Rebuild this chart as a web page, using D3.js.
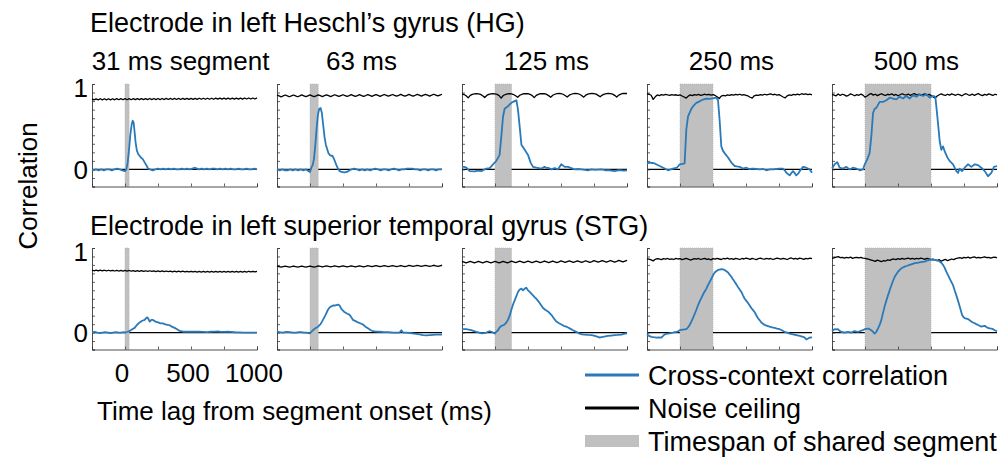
<!DOCTYPE html>
<html>
<head>
<meta charset="utf-8">
<script src="https://cdn.jsdelivr.net/npm/d3@7"></script>
<style>
  html, body { margin: 0; padding: 0; background: #fff; }
  svg { display: block; }
  text { font-family: "Liberation Sans", Arial, Helvetica, sans-serif; fill: #000; }
</style>
</head>
<body>
<svg id="chart" width="1000" height="457"></svg>
<script>
// ---- Data -------------------------------------------------------------
const segmentLabels = ["31 ms segment", "63 ms", "125 ms", "250 ms", "500 ms"];
const segmentDurations = [31.25, 62.5, 125, 250, 500];   // ms
const timeDomain = [-250, 1000];                          // ms, lag from segment onset
const xTicks = [-250, 0, 250, 500, 750, 1000];
const xTickLabels = ["", "0", "", "500", "", "1000"];
const yTicks = [-0.2, -0.1, 0, 0.1, 0.2, 0.3, 0.4, 0.5, 0.6, 0.7, 0.8, 0.9, 1.0];
const yLabelValues = [0, 1];
const rowTitles = [
  "Electrode in left Heschl\u2019s gyrus (HG)",
  "Electrode in left superior temporal gyrus (STG)"
];
const legendLabels = ["Cross-context correlation", "Noise ceiling", "Timespan of shared segment"];

// Cross-context correlation, [lag ms, r] — Heschl's gyrus
const corrHG31 = [[-250,0.00],[-235,-0.01],[-220,0.00],[-200,-0.01],[-180,0.00],[-160,-0.01],[-140,0.00],[-120,0.00],[-100,-0.01],[-80,0.00],[-60,0.01],[-40,0.00],[-20,-0.01],[0,-0.02],[10,0.00],[20,0.08],[30,0.22],[40,0.40],[50,0.52],[58,0.57],[65,0.55],[72,0.45],[80,0.32],[90,0.22],[100,0.18],[110,0.16],[120,0.14],[135,0.12],[150,0.08],[165,0.04],[175,0.01],[190,0.00],[210,-0.01],[230,0.00],[250,0.01],[270,0.00],[290,0.01],[310,0.00],[330,0.01],[350,0.00],[370,0.01],[390,0.00],[410,0.00],[430,0.01],[450,0.00],[470,0.01],[490,0.00],[510,0.01],[530,0.02],[545,0.01],[560,0.00],[580,0.01],[600,0.00],[620,0.01],[640,0.00],[660,0.01],[680,0.01],[700,0.00],[720,0.01],[740,0.00],[760,0.01],[780,0.00],[800,0.01],[820,0.00],[840,0.00],[860,0.01],[880,0.00],[900,0.00],[920,0.01],[940,0.00],[960,0.00],[980,0.01],[1000,0.00]];
const corrHG63 = [[-250,0.00],[-230,-0.01],[-210,0.00],[-190,-0.01],[-170,-0.01],[-150,0.00],[-130,-0.01],[-110,0.00],[-90,-0.01],[-70,0.00],[-50,-0.01],[-30,0.00],[-10,-0.02],[0,-0.03],[10,0.02],[20,0.05],[30,0.12],[40,0.28],[50,0.48],[60,0.64],[70,0.71],[80,0.72],[90,0.66],[100,0.52],[110,0.38],[120,0.29],[130,0.24],[140,0.19],[150,0.17],[160,0.16],[170,0.16],[180,0.13],[190,0.09],[200,0.05],[212,0.01],[225,-0.02],[240,-0.03],[260,-0.035],[280,-0.03],[300,-0.01],[315,0.00],[335,0.01],[355,0.00],[375,-0.01],[395,0.00],[415,-0.01],[435,0.00],[455,-0.01],[475,0.00],[495,0.01],[515,0.00],[535,-0.01],[555,0.00],[575,0.00],[595,-0.01],[615,0.00],[635,0.01],[655,0.00],[675,-0.01],[695,0.00],[715,0.00],[735,0.01],[755,0.01],[775,0.01],[795,0.00],[815,0.00],[835,-0.01],[855,0.00],[875,0.00],[895,-0.01],[915,0.00],[935,0.00],[955,-0.01],[975,0.00],[1000,0.00]];
const corrHG125 = [[-250,0.03],[-235,0.03],[-217,0.02],[-192,-0.02],[-154,-0.023],[-130,-0.015],[-104,-0.02],[-66,0.01],[-40,0.016],[-15,0.06],[10,0.10],[35,0.17],[48,0.39],[61,0.62],[73,0.71],[98,0.74],[124,0.78],[149,0.80],[162,0.81],[174,0.70],[187,0.50],[200,0.29],[225,0.23],[250,0.17],[270,0.08],[288,0.03],[313,0.02],[351,0.01],[376,0.03],[390,0.015],[402,0.02],[427,0.00],[452,0.016],[477,0.00],[502,0.06],[528,0.03],[553,0.03],[578,0.016],[603,0.00],[630,0.005],[654,0.00],[680,-0.005],[705,-0.01],[730,0.00],[760,-0.005],[806,0.00],[840,-0.01],[870,-0.01],[907,-0.02],[930,-0.01],[957,-0.01],[975,-0.015],[1000,-0.01]];
const corrHG250 = [[-250,0.07],[-230,0.08],[-210,0.075],[-192,0.07],[-154,0.04],[-116,0.01],[-91,-0.01],[-70,0.00],[-53,0.01],[-23,0.02],[-2,0.06],[20,0.065],[35,0.07],[48,0.47],[61,0.62],[86,0.71],[105,0.75],[124,0.78],[140,0.79],[162,0.81],[180,0.82],[200,0.83],[218,0.825],[237,0.83],[255,0.835],[275,0.84],[288,0.81],[300,0.58],[313,0.27],[325,0.22],[338,0.19],[364,0.14],[389,0.08],[414,0.04],[430,0.035],[452,0.03],[477,0.01],[503,0.02],[525,0.005],[553,0.01],[580,0.005],[604,0.00],[630,0.005],[654,-0.01],[680,0.00],[705,0.00],[730,0.005],[755,0.01],[780,0.01],[793,-0.01],[806,-0.04],[831,-0.07],[845,-0.04],[856,-0.02],[868,-0.04],[881,-0.07],[895,-0.05],[907,-0.02],[932,0.03],[957,0.02],[982,0.00],[1000,-0.04]];
const corrHG500 = [[-250,0.01],[-230,0.06],[-210,0.085],[-192,0.02],[-167,0.01],[-141,0.03],[-116,0.00],[-91,0.02],[-66,0.01],[-40,-0.01],[-15,0.00],[-2,0.06],[18,0.12],[35,0.19],[48,0.39],[61,0.66],[73,0.71],[86,0.72],[111,0.79],[136,0.79],[162,0.81],[187,0.84],[212,0.83],[237,0.82],[263,0.85],[288,0.83],[313,0.86],[338,0.83],[364,0.87],[389,0.85],[414,0.88],[439,0.86],[465,0.88],[490,0.84],[515,0.86],[533,0.85],[548,0.62],[566,0.33],[578,0.23],[591,0.27],[604,0.21],[624,0.14],[641,0.10],[667,0.06],[692,-0.02],[705,-0.04],[717,0.01],[735,-0.02],[755,0.02],[780,0.06],[806,0.03],[831,0.06],[856,0.05],[881,0.02],[907,-0.02],[932,-0.08],[957,-0.04],[977,0.03],[1000,0.04]];

// Cross-context correlation, [lag ms, r] — superior temporal gyrus
const corrSTG31 = [[-250,0.00],[-230,0.01],[-210,0.00],[-190,-0.005],[-170,0.00],[-150,0.005],[-130,0.00],[-110,-0.005],[-90,0.00],[-70,0.005],[-50,0.00],[-30,0.00],[-10,0.005],[0,0.00],[20,0.01],[35,0.02],[55,0.04],[73,0.056],[90,0.09],[111,0.12],[130,0.14],[149,0.15],[160,0.17],[169,0.18],[178,0.16],[187,0.13],[200,0.15],[212,0.15],[230,0.13],[250,0.12],[270,0.11],[288,0.11],[300,0.10],[313,0.095],[325,0.09],[338,0.087],[355,0.07],[376,0.056],[395,0.04],[414,0.02],[439,0.01],[460,0.01],[480,0.012],[500,0.01],[530,0.012],[560,0.01],[590,0.008],[620,0.006],[650,0.01],[680,0.012],[700,0.015],[720,0.01],[750,0.008],[780,0.01],[800,0.008],[830,0.004],[860,0.002],[900,0.00],[940,0.00],[970,0.00],[1000,0.00]];
const corrSTG63 = [[-250,0.01],[-230,0.005],[-205,0.00],[-180,0.008],[-154,0.005],[-130,0.00],[-104,0.00],[-85,0.006],[-66,0.005],[-45,0.00],[-28,0.00],[-2,-0.01],[23,0.03],[40,0.05],[61,0.07],[80,0.10],[98,0.15],[118,0.21],[136,0.27],[150,0.30],[162,0.31],[175,0.32],[187,0.32],[200,0.325],[212,0.33],[225,0.32],[237,0.28],[250,0.26],[263,0.24],[280,0.225],[300,0.21],[313,0.18],[326,0.15],[345,0.135],[364,0.12],[380,0.11],[401,0.095],[420,0.07],[439,0.05],[458,0.03],[477,0.016],[500,0.012],[528,0.01],[560,0.005],[595,0.005],[629,0.00],[660,0.00],[679,0.00],[692,0.028],[705,0.00],[730,0.00],[760,-0.005],[790,-0.012],[806,-0.016],[830,-0.022],[856,-0.03],[880,-0.032],[907,-0.03],[930,-0.028],[957,-0.025],[980,-0.024],[1000,-0.025]];
const corrSTG125 = [[-250,0.04],[-235,0.042],[-217,0.04],[-200,0.035],[-179,0.028],[-160,0.018],[-141,0.008],[-120,0.00],[-104,-0.008],[-85,-0.005],[-66,0.00],[-52,0.01],[-40,0.016],[-20,0.005],[-2,-0.012],[10,0.01],[23,0.028],[35,0.06],[48,0.08],[60,0.085],[73,0.095],[86,0.12],[98,0.15],[111,0.20],[124,0.27],[136,0.33],[149,0.38],[162,0.43],[174,0.48],[187,0.51],[200,0.52],[212,0.50],[225,0.52],[237,0.53],[250,0.50],[263,0.48],[275,0.46],[288,0.44],[300,0.42],[313,0.40],[326,0.375],[338,0.35],[351,0.32],[364,0.29],[380,0.27],[401,0.25],[414,0.23],[427,0.21],[445,0.17],[465,0.13],[485,0.11],[503,0.095],[520,0.08],[540,0.07],[553,0.06],[566,0.05],[591,0.028],[616,0.008],[641,-0.012],[660,-0.02],[679,-0.024],[705,-0.028],[730,-0.03],[750,-0.036],[768,-0.044],[780,-0.05],[793,-0.06],[805,-0.055],[818,-0.05],[837,-0.045],[856,-0.04],[880,-0.035],[907,-0.03],[930,-0.028],[957,-0.024],[975,-0.015],[1000,-0.008]];
const corrSTG250 = [[-250,-0.02],[-235,-0.04],[-217,-0.05],[-200,-0.055],[-179,-0.06],[-160,-0.058],[-141,-0.06],[-128,-0.04],[-116,-0.02],[-104,-0.015],[-91,-0.012],[-70,-0.005],[-53,0.00],[-40,0.005],[-23,0.008],[-2,0.028],[10,0.032],[23,0.036],[35,0.038],[48,0.04],[60,0.06],[73,0.09],[86,0.13],[98,0.17],[111,0.22],[124,0.27],[136,0.32],[149,0.37],[162,0.41],[174,0.45],[187,0.485],[200,0.52],[212,0.56],[225,0.60],[235,0.63],[245,0.66],[253,0.685],[263,0.71],[275,0.725],[288,0.74],[300,0.745],[313,0.75],[326,0.748],[338,0.74],[351,0.725],[364,0.71],[376,0.685],[389,0.66],[401,0.63],[414,0.60],[427,0.57],[439,0.54],[452,0.51],[465,0.48],[477,0.44],[490,0.40],[503,0.375],[515,0.35],[528,0.32],[540,0.29],[553,0.265],[566,0.24],[578,0.205],[591,0.17],[604,0.145],[616,0.12],[629,0.105],[641,0.09],[660,0.08],[679,0.07],[698,0.062],[717,0.056],[735,0.048],[755,0.04],[775,0.025],[793,0.008],[812,0.00],[831,-0.012],[856,-0.02],[881,-0.03],[907,-0.04],[932,-0.05],[945,-0.06],[957,-0.08],[970,-0.07],[982,-0.06],[1000,-0.056]];
const corrSTG500 = [[-250,0.016],[-240,0.03],[-230,0.04],[-217,0.038],[-205,0.04],[-192,0.02],[-179,0.008],[-167,0.004],[-154,0.00],[-141,0.006],[-129,0.008],[-116,0.004],[-104,0.00],[-91,0.01],[-78,0.016],[-66,0.012],[-53,0.008],[-40,0.016],[-28,0.024],[-15,0.03],[-2,0.04],[10,0.045],[23,0.048],[35,0.04],[48,0.028],[60,0.01],[73,-0.012],[86,0.01],[98,0.048],[111,0.09],[124,0.15],[136,0.23],[149,0.31],[162,0.38],[174,0.44],[187,0.50],[200,0.56],[212,0.61],[225,0.66],[237,0.69],[250,0.72],[263,0.74],[275,0.76],[288,0.77],[300,0.78],[320,0.79],[338,0.80],[357,0.81],[376,0.82],[395,0.825],[414,0.83],[433,0.835],[452,0.84],[470,0.85],[490,0.86],[510,0.862],[528,0.86],[547,0.855],[566,0.84],[578,0.825],[591,0.80],[604,0.765],[616,0.72],[629,0.68],[641,0.64],[654,0.60],[667,0.56],[679,0.50],[692,0.44],[705,0.375],[717,0.31],[726,0.26],[735,0.21],[745,0.185],[755,0.17],[768,0.165],[780,0.16],[793,0.145],[806,0.13],[818,0.12],[831,0.11],[843,0.10],[856,0.09],[868,0.08],[881,0.07],[894,0.075],[907,0.08],[920,0.065],[932,0.055],[945,0.05],[957,0.048],[970,0.04],[982,0.028],[1000,0.016]];

// Noise ceiling, evenly spaced across the lag window — Heschl's gyrus
const noiseHG31 = [.826,.814,.826,.814,.827,.815,.827,.815,.827,.815,.827,.815,.828,.816,.828,.816,.828,.816,.828,.816,.829,.817,.829,.817,.829,.817,.829,.817,.830,.818,.830,.818,.830,.818,.830,.818,.831,.819,.831,.819,.831,.819,.831,.819,.832,.820,.832,.820,.832,.820,.832,.820,.833,.821,.833,.821,.833,.821,.833,.821,.834,.822,.834,.822,.834,.822,.834,.822,.835,.823,.835,.823,.835,.823,.836,.824,.836,.824,.836,.824,.837];
const noiseHG63 = [.870,.860,.850,.860,.871,.861,.851,.861,.871,.861,.851,.861,.872,.862,.852,.862,.872,.862,.852,.862,.873,.863,.853,.863,.873,.863,.853,.863,.874,.864,.854,.864,.874,.864,.854,.864,.875,.865,.855,.865,.875,.865,.855,.865,.876,.866,.856,.866,.876,.866,.856,.866,.877,.867,.857,.867,.877,.867,.857,.867,.878,.868,.858,.868,.878,.868,.858,.868,.879,.869,.859,.869,.879,.869,.859,.869,.880,.870,.860,.870,.880];
const noiseHG125 = [.884,.877,.862,.838,.866,.878,.885,.887,.885,.878,.863,.842,.866,.878,.885,.887,.885,.878,.864,.835,.865,.877,.884,.886,.884,.877,.862,.845,.868,.879,.886,.888,.886,.879,.865,.840,.867,.879,.886,.888,.886,.879,.864,.845,.868,.880,.887,.889,.887,.880,.866,.848,.869,.880,.887,.889,.887,.880,.866,.846,.869,.881,.888,.890,.888,.881,.867,.850,.870,.881,.888,.890,.888,.881,.867,.847,.870,.882,.889,.891,.889];
const noiseHG250 = [.885,.880,.868,.820,.850,.872,.865,.875,.870,.878,.872,.868,.876,.870,.874,.866,.872,.860,.848,.835,.858,.872,.864,.876,.870,.878,.868,.874,.880,.872,.878,.870,.876,.866,.850,.830,.858,.866,.862,.872,.866,.876,.870,.878,.872,.880,.870,.876,.868,.860,.845,.835,.862,.870,.866,.876,.870,.880,.872,.878,.884,.874,.880,.870,.876,.862,.848,.838,.862,.872,.868,.878,.872,.882,.874,.886,.878,.884,.876,.882,.874];
const noiseHG500 = [.878,.870,.862,.884,.866,.880,.872,.858,.868,.884,.874,.862,.876,.868,.882,.870,.846,.860,.878,.888,.870,.880,.864,.876,.886,.872,.866,.880,.874,.884,.868,.878,.862,.874,.886,.876,.870,.882,.866,.878,.888,.872,.880,.868,.876,.884,.870,.878,.866,.850,.836,.860,.874,.884,.872,.866,.880,.870,.884,.876,.868,.880,.872,.862,.878,.886,.874,.868,.882,.866,.878,.888,.872,.864,.878,.870,.884,.876,.866,.880,.872];

// Noise ceiling, evenly spaced across the lag window — superior temporal gyrus
const noiseSTG31 = [.739,.731,.738,.730,.738,.730,.737,.729,.737,.729,.736,.728,.736,.728,.735,.727,.735,.727,.734,.726,.733,.725,.733,.725,.732,.724,.731,.723,.731,.723,.730,.722,.729,.721,.729,.721,.728,.720,.727,.719,.727,.719,.726,.718,.726,.718,.725,.717,.725,.717,.724,.716,.724,.716,.724,.716,.723,.715,.723,.715,.723,.715,.723,.715,.723,.715,.723,.715,.724,.716,.724,.716,.724,.716,.724,.716,.725,.717,.725,.717,.725];
const noiseSTG63 = [.786,.780,.774,.780,.786,.780,.774,.780,.787,.781,.775,.781,.787,.781,.775,.781,.787,.781,.775,.781,.788,.782,.776,.782,.788,.782,.776,.782,.789,.783,.777,.783,.789,.783,.777,.783,.790,.784,.778,.784,.790,.784,.778,.784,.791,.785,.779,.785,.791,.785,.779,.785,.792,.786,.780,.786,.792,.786,.780,.786,.793,.787,.781,.787,.794,.788,.782,.788,.795,.789,.783,.789,.795,.789,.783,.789,.796,.790,.784,.790,.796];
const noiseSTG125 = [.841,.832,.823,.832,.841,.832,.823,.832,.842,.833,.824,.833,.842,.833,.824,.833,.843,.834,.825,.834,.843,.834,.825,.834,.844,.835,.826,.835,.844,.835,.826,.835,.845,.836,.827,.836,.845,.836,.827,.836,.846,.837,.828,.837,.846,.837,.828,.837,.847,.838,.829,.838,.847,.838,.829,.838,.848,.839,.830,.839,.849,.840,.831,.840,.850,.841,.832,.841,.851,.842,.833,.842,.852,.843,.834,.843,.853,.844,.835,.844,.853];
const noiseSTG250 = [.872,.868,.860,.848,.866,.874,.870,.862,.874,.868,.876,.866,.872,.864,.878,.870,.874,.862,.870,.876,.868,.858,.866,.874,.868,.876,.864,.872,.878,.866,.870,.860,.874,.868,.876,.870,.864,.876,.872,.880,.868,.874,.866,.878,.872,.864,.876,.870,.880,.874,.866,.878,.870,.862,.874,.880,.872,.868,.878,.870,.876,.864,.872,.880,.874,.868,.878,.872,.864,.876,.882,.870,.876,.868,.880,.874,.866,.878,.872,.880,.874];
const noiseSTG500 = [.876,.884,.892,.898,.886,.890,.880,.888,.884,.892,.878,.886,.890,.882,.888,.880,.878,.872,.866,.858,.850,.842,.856,.848,.838,.852,.846,.860,.854,.866,.870,.862,.874,.866,.878,.868,.874,.880,.870,.876,.868,.878,.872,.880,.874,.866,.878,.872,.862,.868,.858,.850,.862,.844,.856,.866,.850,.860,.870,.862,.874,.880,.886,.878,.890,.884,.892,.880,.888,.894,.884,.890,.882,.888,.896,.886,.890,.880,.888,.892,.884];

const rows = [
  { title: rowTitles[0], corr: [corrHG31, corrHG63, corrHG125, corrHG250, corrHG500],
    noise: [noiseHG31, noiseHG63, noiseHG125, noiseHG250, noiseHG500] },
  { title: rowTitles[1], corr: [corrSTG31, corrSTG63, corrSTG125, corrSTG250, corrSTG500],
    noise: [noiseSTG31, noiseSTG63, noiseSTG125, noiseSTG250, noiseSTG500] }
];

// ---- Layout -------------------------------------------------------------
const FONT = 26;
const TITLE_FONT = 27;
const BLUE = "#2a79b8";
const GREY = "#c0c0c0";
const panelLeft0 = 92, panelStep = 185, panelWidth = 165;
const rowLayout = [
  { top: 84, bottom: 186.5, titleY: 32, subtitleY: 70 },
  { top: 248, bottom: 349.5, titleY: 235 }
];

const svg = d3.select("#chart");

rows.forEach((row, r) => {
  const L = rowLayout[r];
  const y = d3.scaleLinear().domain([-0.2, 1.0]).range([L.bottom, L.top]);

  svg.append("text")
    .attr("x", 90).attr("y", L.titleY)
    .attr("font-size", TITLE_FONT)
    .text(row.title);

  segmentDurations.forEach((dur, c) => {
    const x0 = panelLeft0 + c * panelStep;
    const x = d3.scaleLinear().domain(timeDomain).range([x0, x0 + panelWidth]);
    const g = svg.append("g");

    if (r === 0) {
      g.append("text")
        .attr("x", (x.range()[0] + x.range()[1]) / 2 + (c === 0 ? 6 : 2))
        .attr("y", L.subtitleY)
        .attr("text-anchor", "middle")
        .attr("font-size", FONT)
        .text(segmentLabels[c]);
    }

    // zero reference
    g.append("line")
      .attr("x1", x(timeDomain[0])).attr("x2", x(timeDomain[1]))
      .attr("y1", y(0)).attr("y2", y(0))
      .attr("stroke", "#000").attr("stroke-width", 1.3);

    // shared-segment span
    g.append("rect")
      .attr("x", x(0)).attr("width", x(dur) - x(0))
      .attr("y", y(1)).attr("height", y(-0.2) - y(1))
      .attr("fill", GREY)
      .attr("stroke", "#a9a9a9").attr("stroke-width", 0.6)
      .attr("stroke-dasharray", "1,1");

    // axes (inward ticks, left and bottom only)
    const yAxis = d3.axisLeft(y).tickValues(yTicks).tickSize(-3).tickFormat("");
    const xAxis = d3.axisBottom(x).tickValues(xTicks).tickSize(-3).tickFormat("");
    const ya = g.append("g").attr("transform", `translate(${x0},0)`).call(yAxis);
    const xa = g.append("g").attr("transform", `translate(0,${L.bottom})`).call(xAxis);
    [ya, xa].forEach(a => {
      a.select(".domain").attr("stroke", "#3a3a3a").attr("stroke-width", 0.9);
      a.selectAll(".tick line").attr("stroke", "#3a3a3a").attr("stroke-width", 0.8);
    });

    // noise ceiling
    const nz = row.noise[c];
    const step = (timeDomain[1] - timeDomain[0]) / (nz.length - 1);
    g.append("path")
      .datum(nz)
      .attr("fill", "none")
      .attr("stroke", "#000").attr("stroke-width", 1.3)
      .attr("stroke-linejoin", "round")
      .attr("d", d3.line()
        .x((d, i) => x(timeDomain[0] + i * step))
        .y(d => y(d)));

    // cross-context correlation
    g.append("path")
      .datum(row.corr[c])
      .attr("fill", "none")
      .attr("stroke", BLUE).attr("stroke-width", 1.8)
      .attr("stroke-linejoin", "round")
      .attr("d", d3.line().x(d => x(d[0])).y(d => y(d[1])));

    // tick labels on the first column
    if (c === 0) {
      yLabelValues.forEach(v => {
        g.append("text")
          .attr("x", x0 - 4)
          .attr("y", y(v) + (v === 1 ? 4 : 0))
          .attr("dy", "0.36em")
          .attr("text-anchor", "end")
          .attr("font-size", FONT)
          .text(String(v));
      });
      if (r === rows.length - 1) {
        xTicks.forEach((t, i) => {
          if (!xTickLabels[i]) return;
          g.append("text")
            .attr("x", x(t) - 3)
            .attr("y", L.bottom + 32)
            .attr("text-anchor", "middle")
            .attr("font-size", FONT)
            .text(xTickLabels[i]);
        });
      }
    }
  });
});

// axis titles
svg.append("text")
  .attr("transform", "translate(37,186) rotate(-90)")
  .attr("text-anchor", "middle")
  .attr("font-size", FONT)
  .text("Correlation");

svg.append("text")
  .attr("x", 97).attr("y", 420)
  .attr("font-size", FONT)
  .text("Time lag from segment onset (ms)");

// legend
const legend = svg.append("g").attr("transform", "translate(585,0)");
const legendRowsY = [375, 408, 441];
legend.append("line").attr("x1", 0).attr("x2", 54).attr("y1", legendRowsY[0]).attr("y2", legendRowsY[0])
  .attr("stroke", BLUE).attr("stroke-width", 2.8);
legend.append("line").attr("x1", 0).attr("x2", 54).attr("y1", legendRowsY[1]).attr("y2", legendRowsY[1])
  .attr("stroke", "#000").attr("stroke-width", 2.8);
legend.append("rect").attr("x", 0).attr("width", 54).attr("y", legendRowsY[2] - 6).attr("height", 12)
  .attr("fill", GREY);
legendLabels.forEach((lab, i) => {
  legend.append("text")
    .attr("x", 63).attr("y", legendRowsY[i])
    .attr("dy", "0.36em")
    .attr("font-size", TITLE_FONT)
    .text(lab);
});
</script>
</body>
</html>
